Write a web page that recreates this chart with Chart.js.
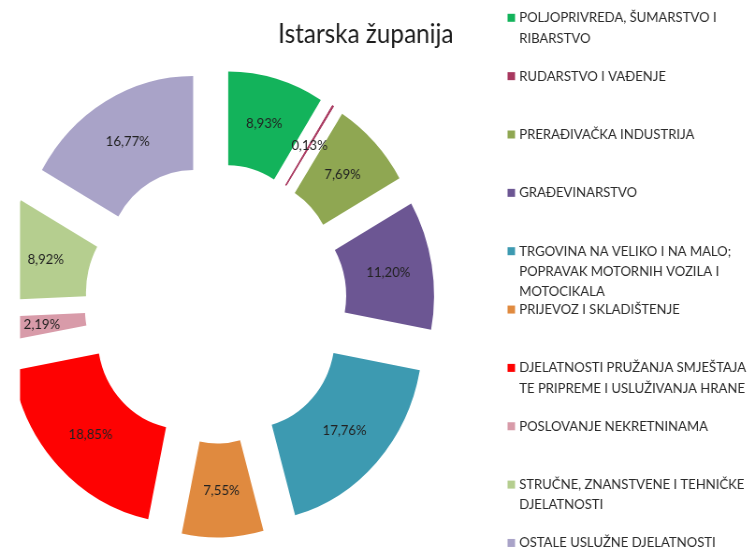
<!DOCTYPE html>
<html>
<head>
<meta charset="utf-8">
<script src="https://cdn.jsdelivr.net/npm/chart.js@4/dist/chart.umd.min.js"></script>
<style>
  html, body { margin: 0; padding: 0; background: #ffffff; }
</style>
</head>
<body>
<!-- drawing surface is slightly wider than the page and condensed to fit -->
<canvas id="chart" width="807" height="547" style="display:block;width:755px;height:547px"></canvas>
<script>
// Gross value added structure by activity, Istria County (shares in %)
const chartTitle = 'Istarska županija';

const categories = [
  ['POLJOPRIVREDA, ŠUMARSTVO I', 'RIBARSTVO'],
  ['RUDARSTVO I VAĐENJE'],
  ['PRERAĐIVAČKA INDUSTRIJA'],
  ['GRAĐEVINARSTVO'],
  ['TRGOVINA NA VELIKO I NA MALO;', 'POPRAVAK MOTORNIH VOZILA I', 'MOTOCIKALA'],
  ['PRIJEVOZ I SKLADIŠTENJE'],
  ['DJELATNOSTI PRUŽANJA SMJEŠTAJA', 'TE PRIPREME I USLUŽIVANJA HRANE'],
  ['POSLOVANJE NEKRETNINAMA'],
  ['STRUČNE, ZNANSTVENE I TEHNIČKE', 'DJELATNOSTI'],
  ['OSTALE USLUŽNE DJELATNOSTI']
];

const shares = [8.93, 0.13, 7.69, 11.20, 17.76, 7.55, 18.85, 2.19, 8.92, 16.77];

const sliceColors = [
  '#13b35b', '#a8385f', '#8fa752', '#6c5693', '#3d9ab1',
  '#e08a3f', '#fe0202', '#d89ba9', '#b5ce8f', '#a9a3c8'
];

const fmtShare = v => v.toFixed(2).replace('.', ',') + '%';

// every slice is pushed outwards along its bisector; the ring is cut at the plot's left edge
const explodedSlices = {
  id: 'explodedSlices',
  beforeDatasetDraw(chart, args, opts) {
    const ctx = chart.ctx;
    const area = chart.chartArea;
    ctx.save();
    ctx.beginPath();
    ctx.rect(area.left, 0, chart.width - area.left, chart.height);
    ctx.clip();
    args.meta.data.forEach(arc => {
      const mid = (arc.startAngle + arc.endAngle) / 2;
      ctx.save();
      ctx.translate(Math.cos(mid) * opts.distance, Math.sin(mid) * opts.distance);
      arc.draw(ctx);
      ctx.restore();
    });
    ctx.restore();
    return false;
  }
};

// percentage text in the middle of every slice
const sliceLabels = {
  id: 'sliceLabels',
  afterDatasetsDraw(chart) {
    const ctx = chart.ctx;
    const meta = chart.getDatasetMeta(0);
    const dist = chart.options.plugins.explodedSlices.distance;
    ctx.save();
    ctx.font = '14px Lato';
    ctx.fillStyle = '#222222';
    ctx.textAlign = 'center';
    ctx.textBaseline = 'middle';
    meta.data.forEach((arc, i) => {
      const mid = (arc.startAngle + arc.endAngle) / 2;
      const rr = (arc.innerRadius + arc.outerRadius) / 2 + dist;
      ctx.fillText(fmtShare(chart.data.datasets[0].data[i]),
        arc.x + Math.cos(mid) * rr, arc.y + Math.sin(mid) * rr);
    });
    ctx.restore();
  }
};

// title and the wrapped legend column on the right
const sideText = {
  id: 'sideText',
  afterDraw(chart) {
    const ctx = chart.ctx;
    ctx.save();
    ctx.fillStyle = '#1c1c1c';
    ctx.font = '26px Lato';
    ctx.textAlign = 'center';
    ctx.textBaseline = 'alphabetic';
    ctx.fillText(chartTitle, 391, 43);

    const colors = chart.data.datasets[0].backgroundColor;
    ctx.font = '14px Lato';
    ctx.textAlign = 'left';
    ctx.textBaseline = 'middle';
    chart.data.labels.forEach((lines, i) => {
      const y0 = 17.8 + i * 58.35;
      ctx.fillStyle = colors[i];
      ctx.fillRect(542.5, y0 - 4, 8, 8);
      ctx.fillStyle = '#2a2a2a';
      lines.forEach((line, j) => ctx.fillText(line, 555, y0 + j * 20.2));
    });
    ctx.restore();
  }
};

new Chart(document.getElementById('chart'), {
  type: 'doughnut',
  data: {
    labels: categories,
    datasets: [{
      data: shares,
      backgroundColor: sliceColors,
      borderColor: sliceColors,
      borderWidth: shares.map(v => (v < 1 ? 1 : 0)),
      radius: 186,
      cutout: '49.5%'
    }]
  },
  options: {
    responsive: false,
    animation: false,
    devicePixelRatio: 1,
    events: [],
    layout: { padding: { left: 21.4, right: 367.2, top: 60, bottom: 0 } },
    plugins: {
      legend: { display: false },
      tooltip: { enabled: false },
      title: { display: false },
      explodedSlices: { distance: 48 }
    }
  },
  plugins: [explodedSlices, sliceLabels, sideText]
});
</script>
</body>
</html>
